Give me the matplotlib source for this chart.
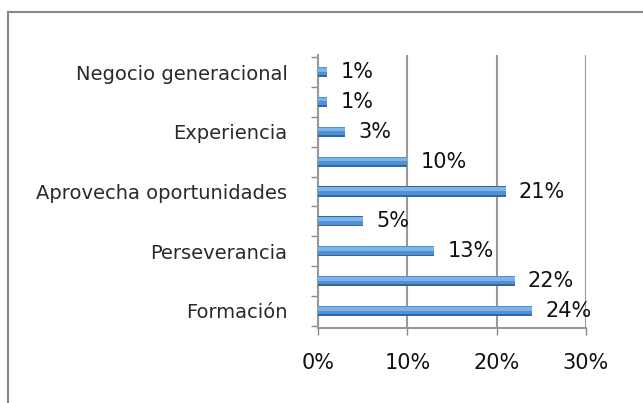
import numpy as np
import matplotlib.pyplot as plt
from matplotlib.lines import Line2D

# data (bottom to top)
categories = ["Formación", "", "Perseverancia", "", "Aprovecha oportunidades",
              "", "Experiencia", "", "Negocio generacional"]
values = [24, 22, 13, 5, 21, 10, 3, 1, 1]
xticks = [0, 10, 20, 30]
xticklabels = ["0%", "10%", "20%", "30%"]

fig = plt.figure(figsize=(6.43, 4.03), dpi=100)
ax = fig.add_axes([318/643, 1-328/403, (586-318)/643, (328-55)/403])

y = np.arange(len(values))
bar_h = 0.34

# cylinder-ish bars: dark base, mid body, light highlight on top
ax.barh(y, values, height=bar_h, color="#34679f", zorder=3)
ax.barh(y + 0.025, values, height=bar_h - 0.07, color="#4f91d3", zorder=4)
ax.barh(y + 0.075, values, height=0.12, color="#7cb4e8", zorder=5)

for yi, v in zip(y, values):
    ax.text(v + 1.5, yi, f"{v}%", va="center", ha="left", fontsize=15,
            color="#111111", zorder=6)

ax.set_xlim(0, 30)
ax.set_ylim(-0.57, 8.57)
ax.set_xticks(xticks)
ax.set_xticklabels(xticklabels, fontsize=15, color="#111111")
ax.set_yticks(y)
ax.set_yticklabels(categories, fontsize=14, color="#2a2a2a")
ax.set_yticks(np.arange(-0.5, 8.6, 1), minor=True)

ax.tick_params(axis="y", which="major", length=0, pad=22)
ax.tick_params(axis="y", which="minor", length=5, color="#888888", width=1)
ax.tick_params(axis="x", length=5, color="#888888", width=1, pad=13)

ax.xaxis.grid(True, color="#999999", linewidth=1.5, zorder=0)
for s in ["top", "right"]:
    ax.spines[s].set_visible(False)
for s in ["left", "bottom"]:
    ax.spines[s].set_color("#999999")
    ax.spines[s].set_linewidth(1.5)

# outer chart frame (left and top edges only visible)
fig.add_artist(Line2D([8/643, 8/643], [0, 1-12/403], color="#888888", lw=1.5))
fig.add_artist(Line2D([8/643, 1], [1-12/403, 1-12/403], color="#888888", lw=1.5))

fig.savefig("out.png", dpi=100)
